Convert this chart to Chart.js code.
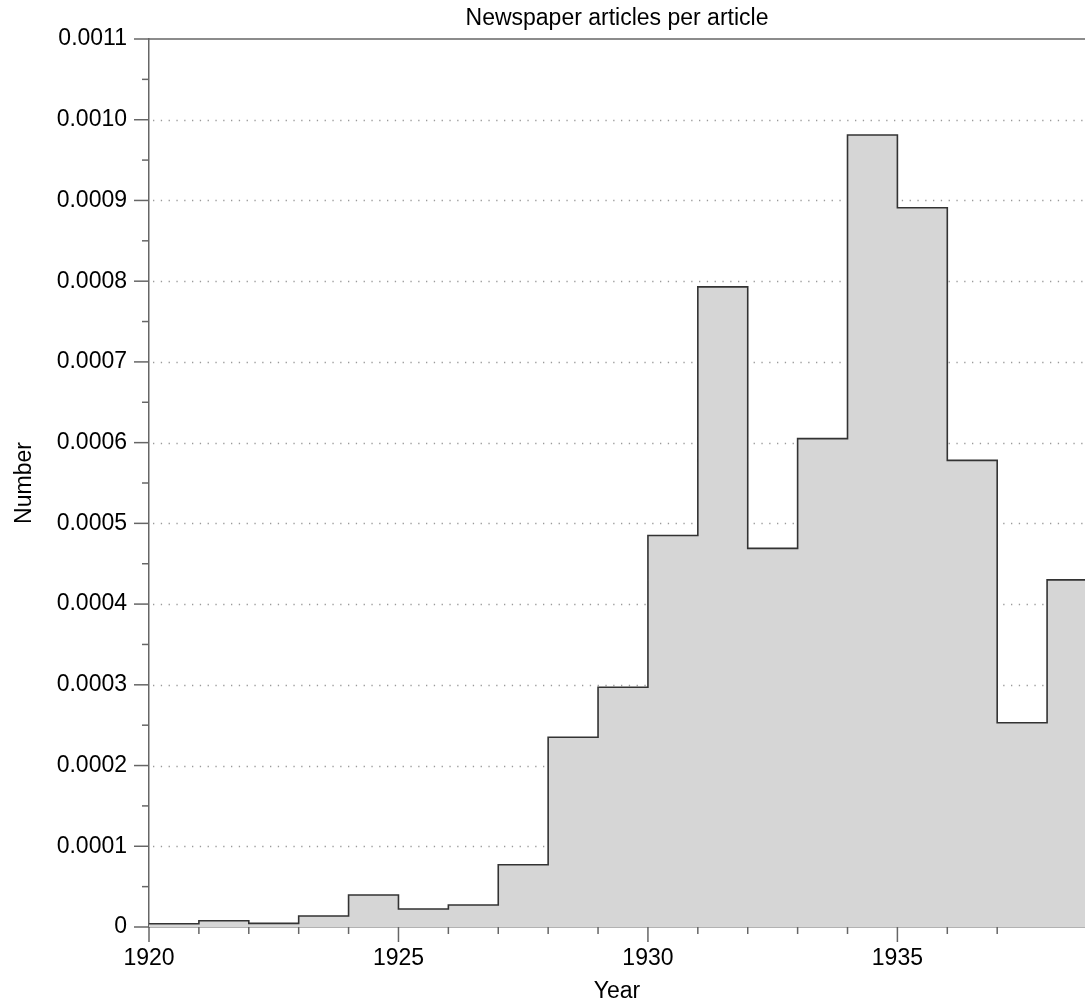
<!DOCTYPE html>
<html>
<head>
<meta charset="utf-8">
<title>Newspaper articles per article</title>
<script src="https://cdn.jsdelivr.net/npm/chart.js@4/dist/chart.umd.min.js"></script>
<style>
  html, body { margin: 0; padding: 0; background: #fff; overflow: hidden; }
  #wrap { width: 1085px; height: 1005px; position: relative; }
</style>
</head>
<body>
<div id="wrap"><canvas id="histChart"></canvas></div>
<script>
// Data
const years = [1920, 1921, 1922, 1923, 1924, 1925, 1926, 1927, 1928, 1929,
  1930, 1931, 1932, 1933, 1934, 1935, 1936, 1937, 1938];
const articleRates = [0.0000040, 0.0000078, 0.0000045, 0.0000136, 0.0000396,
  0.0000223, 0.0000272, 0.0000772, 0.000235, 0.000297,
  0.000485, 0.000793, 0.000469, 0.000605, 0.000981,
  0.000891, 0.000578, 0.000253, 0.000430];
const yTickStep = 0.0001;
const xLabelEvery = 5;

const FONT = '"Liberation Sans", Arial, Helvetica, sans-serif';
const AXIS_COLOR = '#666';

// stepped line needs a closing point one year after the last bin
const stepPoints = years.map((y, i) => ({ x: y, y: articleRates[i] }));
stepPoints.push({ x: years[years.length - 1] + 1, y: articleRates[articleRates.length - 1] });

// dotted grid, top frame line and major/minor tick marks
const frameAndTicks = {
  id: 'frameAndTicks',
  beforeDatasetsDraw(chart) {
    const { ctx, chartArea } = chart;
    const yScale = chart.scales.y;
    ctx.save();
    ctx.strokeStyle = '#9a9a9a';
    ctx.lineWidth = 1.3;
    ctx.setLineDash([1.3, 6.5]);
    yScale.ticks.forEach(t => {
      if (t.value <= 0 || t.value >= yScale.max - 1e-9) return;
      const py = Math.round(yScale.getPixelForValue(t.value)) + 0.5;
      ctx.beginPath();
      ctx.moveTo(chartArea.left + 4, py);
      ctx.lineTo(chartArea.right, py);
      ctx.stroke();
    });
    ctx.restore();
  },
  afterDraw(chart) {
    const { ctx, chartArea } = chart;
    const xScale = chart.scales.x;
    const yScale = chart.scales.y;
    ctx.save();
    ctx.strokeStyle = AXIS_COLOR;
    ctx.lineWidth = 1.5;

    // top frame
    ctx.beginPath();
    ctx.moveTo(chartArea.left, chartArea.top);
    ctx.lineTo(chartArea.right, chartArea.top);
    ctx.stroke();

    // x ticks: every year, longer every 5 years
    xScale.ticks.forEach(t => {
      if (!Number.isInteger(t.value)) return;
      const px = xScale.getPixelForValue(t.value);
      const len = t.value % xLabelEvery === 0 ? 15 : 7;
      ctx.beginPath();
      ctx.moveTo(px, chartArea.bottom);
      ctx.lineTo(px, chartArea.bottom + len);
      ctx.stroke();
    });

    // y ticks: major at labels, minor halfway
    const yt = yScale.ticks.map(t => t.value);
    yt.forEach((v, i) => {
      const py = yScale.getPixelForValue(v);
      ctx.beginPath();
      ctx.moveTo(chartArea.left - 15, py);
      ctx.lineTo(chartArea.left, py);
      ctx.stroke();
      if (i < yt.length - 1) {
        const pm = yScale.getPixelForValue((v + yt[i + 1]) / 2);
        ctx.beginPath();
        ctx.moveTo(chartArea.left - 7, pm);
        ctx.lineTo(chartArea.left, pm);
        ctx.stroke();
      }
    });
    ctx.restore();
  }
};

Chart.defaults.font.family = FONT;
Chart.defaults.font.size = 23;
Chart.defaults.color = '#000';

new Chart(document.getElementById('histChart'), {
  type: 'line',
  data: {
    datasets: [{
      label: 'Newspaper articles per article',
      data: stepPoints,
      stepped: true,
      fill: 'origin',
      backgroundColor: '#d6d6d6',
      borderColor: '#333',
      borderWidth: 1.6,
      pointRadius: 0,
      pointHoverRadius: 0
    }]
  },
  options: {
    responsive: true,
    maintainAspectRatio: false,
    animation: false,
    layout: { padding: 0 },
    plugins: {
      legend: { display: false },
      tooltip: { enabled: false },
      title: {
        display: true,
        text: 'Newspaper articles per article',
        fullSize: false,
        font: { size: 23, weight: 'normal' },
        padding: { top: 5, bottom: 6.4 }
      }
    },
    scales: {
      x: {
        type: 'linear',
        min: 1920,
        max: 1938.76,
        afterFit: scale => {
          scale.height = 78;
          scale.paddingLeft = 0;
          scale.paddingRight = 0;
        },
        ticks: {
          stepSize: 1,
          autoSkip: false,
          maxRotation: 0,
          padding: 3,
          callback: v => (Number.isInteger(v) && v % xLabelEvery === 0 ? String(v) : '')
        },
        grid: { drawOnChartArea: false, drawTicks: true, tickLength: 15, tickColor: 'rgba(0,0,0,0)' },
        border: { display: true, color: AXIS_COLOR, width: 1.5 },
        title: { display: true, text: 'Year', padding: { top: 1, bottom: 0 } }
      },
      y: {
        min: 0,
        max: 0.0011,
        afterFit: scale => { scale.width = 149; },
        ticks: {
          stepSize: yTickStep,
          padding: 7,
          callback: v => (v === 0 ? '0' : v.toFixed(4))
        },
        grid: { drawOnChartArea: false, drawTicks: true, tickLength: 15, tickColor: 'rgba(0,0,0,0)' },
        border: { display: true, color: AXIS_COLOR, width: 1.5 },
        title: { display: true, text: 'Number', padding: { top: 11, bottom: 0 } }
      }
    }
  },
  plugins: [frameAndTicks]
});
</script>
</body>
</html>
